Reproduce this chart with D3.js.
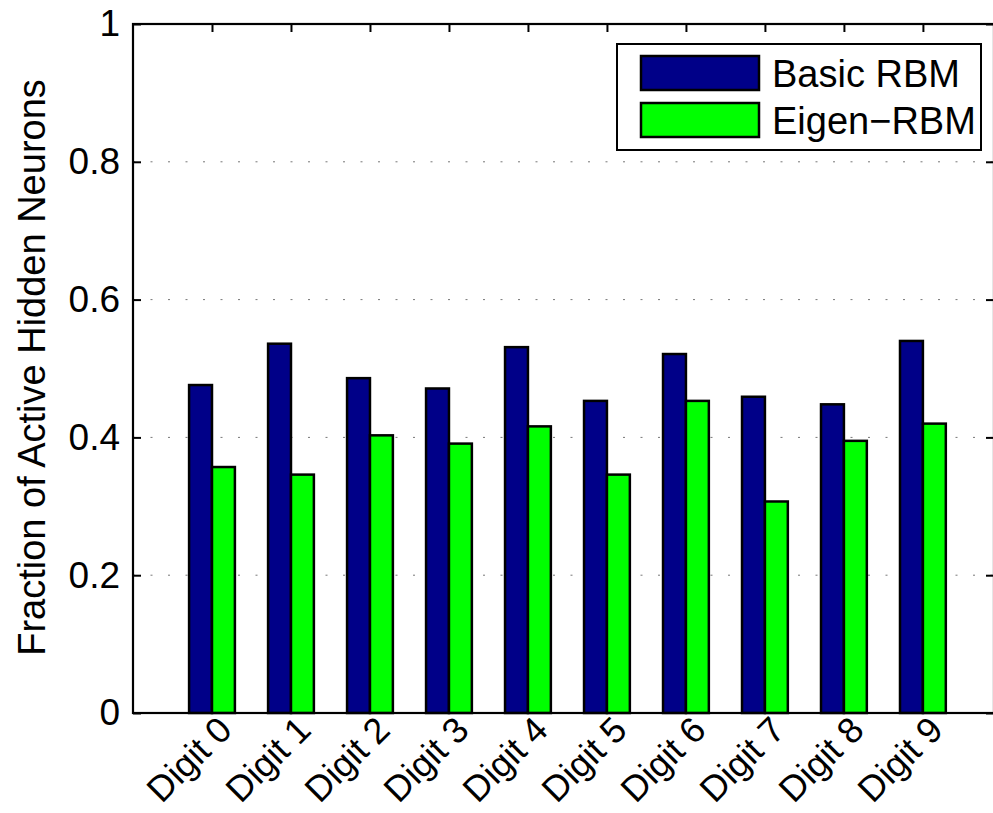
<!DOCTYPE html>
<html>
<head>
<meta charset="utf-8">
<script src="https://cdn.jsdelivr.net/npm/d3@7"></script>
<style>
  html, body { margin: 0; padding: 0; background: #fff; }
  svg { display: block; }
  text { font-family: "Liberation Sans", Arial, Helvetica, sans-serif; fill: #000; }
</style>
</head>
<body>
<svg id="chart" width="993" height="813"></svg>
<script>
const categories = ["Digit 0","Digit 1","Digit 2","Digit 3","Digit 4","Digit 5","Digit 6","Digit 7","Digit 8","Digit 9"];
const basicRBM = [0.476, 0.536, 0.486, 0.471, 0.531, 0.453, 0.521, 0.459, 0.448, 0.540];
const eigenRBM = [0.357, 0.346, 0.403, 0.391, 0.416, 0.346, 0.453, 0.307, 0.395, 0.420];
const seriesNames = ["Basic RBM", "Eigen\u2212RBM"];
const yTicks = [0, 0.2, 0.4, 0.6, 0.8, 1];
const yTickLabels = ["0", "0.2", "0.4", "0.6", "0.8", "1"];
const yLabel = "Fraction of Active Hidden Neurons";

(function () {
const colors = ["#000088", "#00ff00"];
const svg = d3.select("#chart");
const pLeft = 133, pRight = 994, pTop = 24, pBottom = 713;
const x = d3.scaleLinear().domain([0, 10.9]).range([pLeft, pRight]);
const y = d3.scaleLinear().domain([0, 1]).range([pBottom, pTop]);
const barW = 0.29;

// grid
svg.append("g").selectAll("line").data(yTicks.filter(d => d > 0 && d < 1)).join("line")
  .attr("x1", pLeft).attr("x2", pRight)
  .attr("y1", d => y(d)).attr("y2", d => y(d))
  .attr("stroke", "#777").attr("stroke-width", 1)
  .attr("stroke-dasharray", "2,15.5");

// bars
const series = [basicRBM, eigenRBM];
series.forEach((vals, s) => {
  svg.append("g").selectAll("rect").data(vals).join("rect")
    .attr("x", (d, i) => x(i + 1 + (s === 0 ? -barW : 0)))
    .attr("width", x(barW) - x(0))
    .attr("y", d => y(d))
    .attr("height", d => y(0) - y(d))
    .attr("fill", colors[s])
    .attr("stroke", "#000").attr("stroke-width", 2.5);
});

// axes box
svg.append("rect").attr("x", pLeft).attr("y", pTop).attr("width", pRight - pLeft).attr("height", pBottom - pTop)
  .attr("fill", "none").attr("stroke", "#000").attr("stroke-width", 2.2);

// left axis
const yAxis = d3.axisLeft(y).tickValues(yTicks).tickFormat((d, i) => yTickLabels[i]).tickSizeInner(-8).tickSizeOuter(0).tickPadding(13);
const gy = svg.append("g").attr("transform", `translate(${pLeft},0)`).call(yAxis);
gy.select(".domain").remove();
gy.selectAll("line").attr("stroke", "#000").attr("stroke-width", 2);
gy.selectAll("text").attr("font-size", 37).attr("font-family", "Liberation Sans, Arial, sans-serif").attr("fill", "#000");

// right ticks
const gr = svg.append("g").attr("transform", `translate(${pRight},0)`).call(d3.axisRight(y).tickValues(yTicks).tickFormat("").tickSizeInner(-8).tickSizeOuter(0));
gr.select(".domain").remove();
gr.selectAll("line").attr("stroke", "#000").attr("stroke-width", 2);

// top ticks
const gt = svg.append("g").attr("transform", `translate(0,${pTop})`).call(d3.axisTop(x).tickValues(d3.range(1, 11)).tickFormat("").tickSizeInner(-8).tickSizeOuter(0));
gt.select(".domain").remove();
gt.selectAll("line").attr("stroke", "#000").attr("stroke-width", 2);

// bottom labels, rotated
svg.append("g").selectAll("text").data(categories).join("text")
  .attr("transform", (d, i) => `translate(${x(i + 1) + 22},${pBottom + 19}) rotate(-45)`)
  .attr("text-anchor", "end")
  .attr("font-size", 36)
  .text(d => d);

// y label
svg.append("text")
  .attr("transform", `translate(45,${(pTop + pBottom) / 2 - 1}) rotate(-90)`)
  .attr("text-anchor", "middle")
  .attr("font-size", 38)
  .text(yLabel);

// legend
const lg = svg.append("g");
lg.append("rect").attr("x", 617).attr("y", 44).attr("width", 364).attr("height", 106)
  .attr("fill", "#fff").attr("stroke", "#000").attr("stroke-width", 2);
seriesNames.forEach((name, s) => {
  lg.append("rect").attr("x", 641).attr("y", 56 + s * 47).attr("width", 118).attr("height", 34)
    .attr("fill", colors[s]).attr("stroke", "#000").attr("stroke-width", 2.5);
  lg.append("text").attr("x", 772).attr("y", 87 + s * 47).attr("font-size", 38).text(name);
});
})();
</script>
</body>
</html>
